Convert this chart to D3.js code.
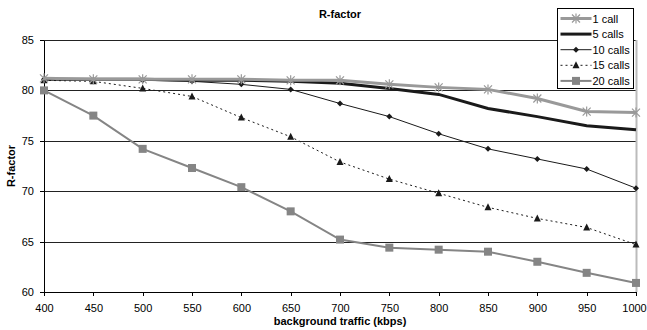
<!DOCTYPE html>
<meta charset="utf-8">
<style>
body { margin: 0; background: #fff; }
text { font-family: 'Liberation Sans', Arial, sans-serif; }
.axis text { font-size: 11px; fill: #000; }
.axis path, .axis line { stroke: #000; shape-rendering: crispEdges; }
</style>
<div class="chart"></div>
<script src="https://d3js.org/d3.v7.min.js"></script>
<script>
var traffic = [400, 450, 500, 550, 600, 650, 700, 750, 800, 850, 900, 950, 1000];
var yTicks = [60, 65, 70, 75, 80, 85];

var call1  = [81.2, 81.1, 81.1, 81.1, 81.1, 81.0, 81.0, 80.6, 80.3, 80.1, 79.2, 77.9, 77.8];
var call5  = [81.1, 81.1, 81.1, 81.0, 81.0, 80.9, 80.7, 80.2, 79.6, 78.2, 77.4, 76.5, 76.1];
var call10 = [81.1, 81.0, 81.0, 80.9, 80.6, 80.1, 78.7, 77.4, 75.7, 74.2, 73.2, 72.2, 70.3];
var call15 = [81.0, 80.9, 80.2, 79.4, 77.3, 75.4, 72.9, 71.2, 69.8, 68.4, 67.3, 66.4, 64.7];
var call20 = [80.0, 77.5, 74.2, 72.3, 70.4, 68.0, 65.2, 64.4, 64.2, 64.0, 63.0, 61.9, 60.9];

var series = [
    { name: "1 call",   values: call1,  color: "#999999", width: 3,   dash: null,  marker: "star" },
    { name: "5 calls",  values: call5,  color: "#1a1a1a", width: 3,   dash: null,  marker: null },
    { name: "10 calls", values: call10, color: "#1a1a1a", width: 1,   dash: null,  marker: "diamond" },
    { name: "15 calls", values: call15, color: "#1a1a1a", width: 1,   dash: "2,3", marker: "triangle" },
    { name: "20 calls", values: call20, color: "#858585", width: 2,   dash: null,  marker: "square" }
];

var margin = { top: 40, right: 11, bottom: 38, left: 44 };
var width = 647 - margin.left - margin.right;
var height = 330 - margin.top - margin.bottom;

var svg = d3.select(".chart").append("svg")
    .attr("width", 647)
    .attr("height", 330);

var g = svg.append("g")
    .attr("transform", "translate(" + margin.left + "," + margin.top + ")");

var x = d3.scaleLinear().domain([400, 1000]).range([0, width]);
var y = d3.scaleLinear().domain([60, 85]).range([height, 0]);

// grid lines
g.selectAll(".grid")
    .data(yTicks.filter(function (d) { return d > 60; }))
    .enter().append("line")
    .attr("x1", 0).attr("x2", width)
    .attr("y1", function (d) { return Math.round(y(d)) + 0.5; })
    .attr("y2", function (d) { return Math.round(y(d)) + 0.5; })
    .style("stroke", "#222")
    .style("stroke-width", 1);

// plot area right border
g.append("line")
    .attr("x1", width + 0.5).attr("x2", width + 0.5)
    .attr("y1", 0).attr("y2", height)
    .style("stroke", "#bbb")
    .style("stroke-width", 2);

var xAxis = g.append("g")
    .attr("class", "axis")
    .attr("transform", "translate(0," + height + ")")
    .call(d3.axisBottom(x).tickValues(traffic).tickFormat(d3.format("d"))
        .tickSize(4).tickSizeOuter(0).tickPadding(8));

// keep the last label inside the page, as the original does
xAxis.selectAll(".tick:last-of-type text").attr("dx", "-2");

g.append("g")
    .attr("class", "axis")
    .call(d3.axisLeft(y).tickValues(yTicks).tickSize(4).tickSizeOuter(0).tickPadding(6));

var line = d3.line()
    .x(function (d, i) { return x(traffic[i]); })
    .y(function (d) { return y(d); });

function drawMarker(sel, type, color) {
    if (type === "square") {
        sel.append("rect").attr("x", -4).attr("y", -4).attr("width", 8).attr("height", 8)
            .style("fill", color);
    } else if (type === "diamond") {
        sel.append("path").attr("d", "M0,-3L3,0L0,3L-3,0Z").style("fill", color);
    } else if (type === "triangle") {
        sel.append("path").attr("d", "M0,-4L3.5,3L-3.5,3Z").style("fill", color);
    } else if (type === "star") {
        sel.append("path").attr("d", "M-4,-4L4,4M-4,4L4,-4M0,-5L0,5")
            .style("stroke", color).style("stroke-width", 1.2).style("fill", "none");
    }
}

// draw series
series.slice().reverse().forEach(function (s) {
    g.append("path")
        .datum(s.values)
        .attr("d", line)
        .style("fill", "none")
        .style("stroke", s.color)
        .style("stroke-width", s.width)
        .style("stroke-dasharray", s.dash);

    if (s.marker) {
        g.selectAll(null)
            .data(s.values)
            .enter().append("g")
            .attr("transform", function (d, i) { return "translate(" + x(traffic[i]) + "," + y(d) + ")"; })
            .each(function () { drawMarker(d3.select(this), s.marker, s.color); });
    }
});

// title and labels
svg.append("text")
    .attr("x", margin.left + width / 2)
    .attr("y", 18)
    .attr("text-anchor", "middle")
    .style("font-size", "11px")
    .style("font-weight", "bold")
    .text("R-factor");

svg.append("text")
    .attr("x", margin.left + width / 2)
    .attr("y", 325)
    .attr("text-anchor", "middle")
    .style("font-size", "11px")
    .style("font-weight", "bold")
    .text("background traffic (kbps)");

svg.append("text")
    .attr("transform", "translate(15," + (margin.top + height / 2) + ") rotate(-90)")
    .attr("text-anchor", "middle")
    .style("font-size", "11px")
    .style("font-weight", "bold")
    .text("R-factor");

// legend
var legend = svg.append("g").attr("transform", "translate(557.5,8.5)");
legend.append("rect")
    .attr("width", 76).attr("height", 80)
    .style("fill", "#fff").style("stroke", "#000").style("stroke-width", 1);

var rows = legend.selectAll(".legendRow")
    .data(series)
    .enter().append("g")
    .attr("class", "legendRow")
    .attr("transform", function (d, i) { return "translate(0," + (10 + i * 15.6) + ")"; });

rows.append("line")
    .attr("x1", 3).attr("x2", 34)
    .style("stroke", function (d) { return d.color; })
    .style("stroke-width", function (d) { return d.width; })
    .style("stroke-dasharray", function (d) { return d.dash; });

rows.append("g")
    .attr("transform", "translate(18.5,0)")
    .each(function (d) { if (d.marker) drawMarker(d3.select(this), d.marker, d.color); });

rows.append("text")
    .attr("x", 35)
    .attr("y", 4)
    .style("font-size", "11px")
    .text(function (d) { return d.name; });
</script>
